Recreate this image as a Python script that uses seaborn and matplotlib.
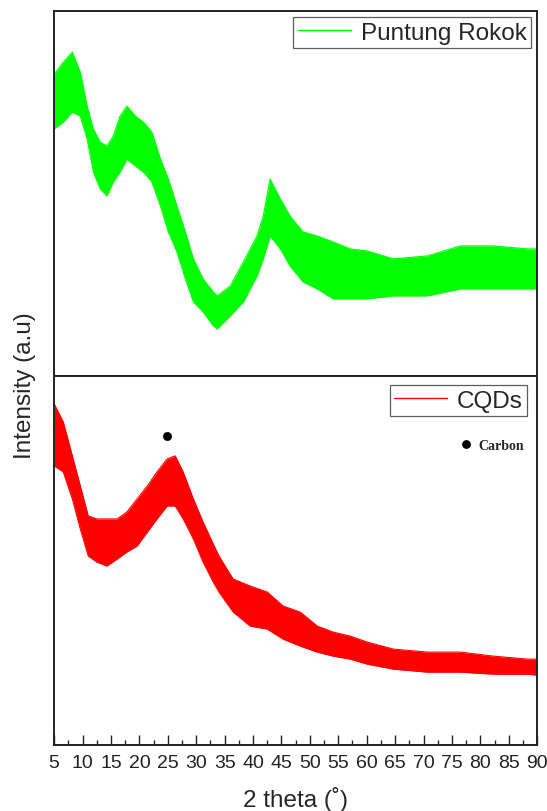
import matplotlib
matplotlib.use("Agg")
import matplotlib.pyplot as plt
import seaborn as sns
import pandas as pd
import numpy as np

# ---- data (arbitrary intensity units) ----
green_deg = [5.0, 6.6, 8.2, 9.6, 10.8, 11.9, 13.1, 14.3, 15.4, 16.6, 17.8, 19.3, 20.7,
             22.2, 23.7, 25.1, 26.6, 28.1, 29.5, 31.2, 33.0, 33.7, 36.0, 38.3, 40.7,
             41.8, 43.0, 44.8, 46.5, 48.8, 51.3, 54.1, 57.1, 60.1, 64.7, 70.7, 76.5,
             82.3, 88.3, 90.0]
green_upper = [302, 314, 324, 304, 270, 247, 234, 230, 240, 260, 270, 260, 254,
               244, 217, 197, 170, 144, 117, 97, 84, 80, 90, 114, 140,
               160, 197, 177, 160, 144, 140, 134, 127, 125, 117, 120, 130,
               130, 127, 127]
green_lower = [247, 254, 264, 260, 237, 204, 187, 180, 194, 204, 217, 210, 204,
               194, 170, 144, 124, 97, 74, 64, 50, 47, 60, 74, 100,
               117, 140, 127, 110, 94, 87, 77, 77, 77, 80, 80, 87,
               87, 87, 87]

red_deg = [5.0, 6.6, 8.2, 9.6, 11.0, 12.5, 14.3, 16.1, 17.8, 19.6, 21.4, 23.1, 24.9,
           26.3, 27.7, 29.5, 31.2, 33.0, 34.0, 36.5, 39.5, 42.5, 45.3, 48.3, 51.3,
           54.1, 57.1, 60.1, 64.7, 70.7, 76.5, 82.3, 88.3, 90.0]
red_upper = [341, 323, 289, 259, 229, 226, 226, 226, 233, 246, 259, 273, 286,
             289, 273, 246, 223, 201, 189, 166, 159, 153, 139, 133, 119,
             113, 109, 103, 96, 93, 93, 89, 86, 86]
red_lower = [279, 273, 246, 216, 189, 183, 179, 186, 193, 199, 213, 226, 239,
             239, 226, 206, 183, 163, 153, 133, 119, 116, 106, 99, 93,
             89, 86, 81, 76, 73, 73, 71, 71, 70]

carbon_peak_deg = [24.9]
carbon_peak_val = [309]

x_ticks = list(range(5, 91, 5))
series_names = ["Puntung Rokok", "CQDs"]
series_colors = ["#00FF00", "#FF0000"]

# ---- figure ----
sns.set_theme(style="white")
plt.rcParams["font.family"] = ["Liberation Sans", "DejaVu Sans"]

fig = plt.figure(figsize=(5.47, 8.12), dpi=100)
ax_top = fig.add_axes([0.099, 0.536, 0.883, 0.449])
ax_bot = fig.add_axes([0.099, 0.081, 0.883, 0.455], sharex=ax_top)


def draw(ax, deg, up, lo, color, name):
    df = pd.DataFrame({"deg": deg, "val": np.mean([up, lo], axis=0)})
    sns.lineplot(data=df, x="deg", y="val", ax=ax, color=color, lw=0.9,
                 label=name, estimator=None)
    ax.fill_between(deg, lo, up, color=color, lw=0)
    ax.plot(deg, up, color=color, lw=0.8)
    ax.plot(deg, lo, color=color, lw=0.8)


draw(ax_top, green_deg, green_upper, green_lower, series_colors[0], series_names[0])
draw(ax_bot, red_deg, red_upper, red_lower, series_colors[1], series_names[1])

ax_top.set_ylim(0, 365)
ax_bot.set_ylim(0, 369)
ax_bot.set_xlim(5, 90)
ax_bot.set_xticks(x_ticks)
ax_bot.set_xticklabels([str(t) for t in x_ticks])
ax_bot.set_xticks(np.arange(7.5, 90, 5), minor=True)

for ax in (ax_top, ax_bot):
    ax.set_yticks([])
    ax.set_ylabel("")
    for sp in ax.spines.values():
        sp.set_color("#222222")
        sp.set_linewidth(1.4)

ax_top.set_xlabel("")
ax_top.tick_params(axis="x", bottom=False, labelbottom=False)
ax_bot.tick_params(axis="x", which="major", direction="in", length=7, width=1,
                   bottom=True, labelsize=14, pad=6, colors="#222222")
ax_bot.tick_params(axis="x", which="minor", direction="in", length=3.5, width=1,
                   bottom=True)
ax_bot.set_xlabel("2 theta (˚)", fontsize=17.5, labelpad=11)

# carbon marker
sns.scatterplot(x=carbon_peak_deg, y=carbon_peak_val, ax=ax_bot, color="black",
                s=35, edgecolor="black", legend=False)
ax_bot.scatter([77.4], [301], color="black", s=28)
ax_bot.text(79.7, 299, "Carbon", fontsize=10, fontweight="bold",
            family="Liberation Serif", va="center", ha="left")

for ax, pad in ((ax_top, 0.25), (ax_bot, 0.4)):
    leg = ax.legend(loc="upper right", fontsize=17.5, frameon=True, fancybox=False,
                    handlelength=2.2, borderaxespad=pad, borderpad=0.18,
                    handletextpad=0.4)
    leg.get_frame().set_edgecolor("#333333")
    leg.get_frame().set_linewidth(0.9)
    for line in leg.get_lines():
        line.set_linewidth(1.0)

fig.text(0.045, 0.525, "Intensity (a.u)", rotation=90, fontsize=17.5,
         va="center", ha="center")

fig.savefig("out.png", dpi=100)
